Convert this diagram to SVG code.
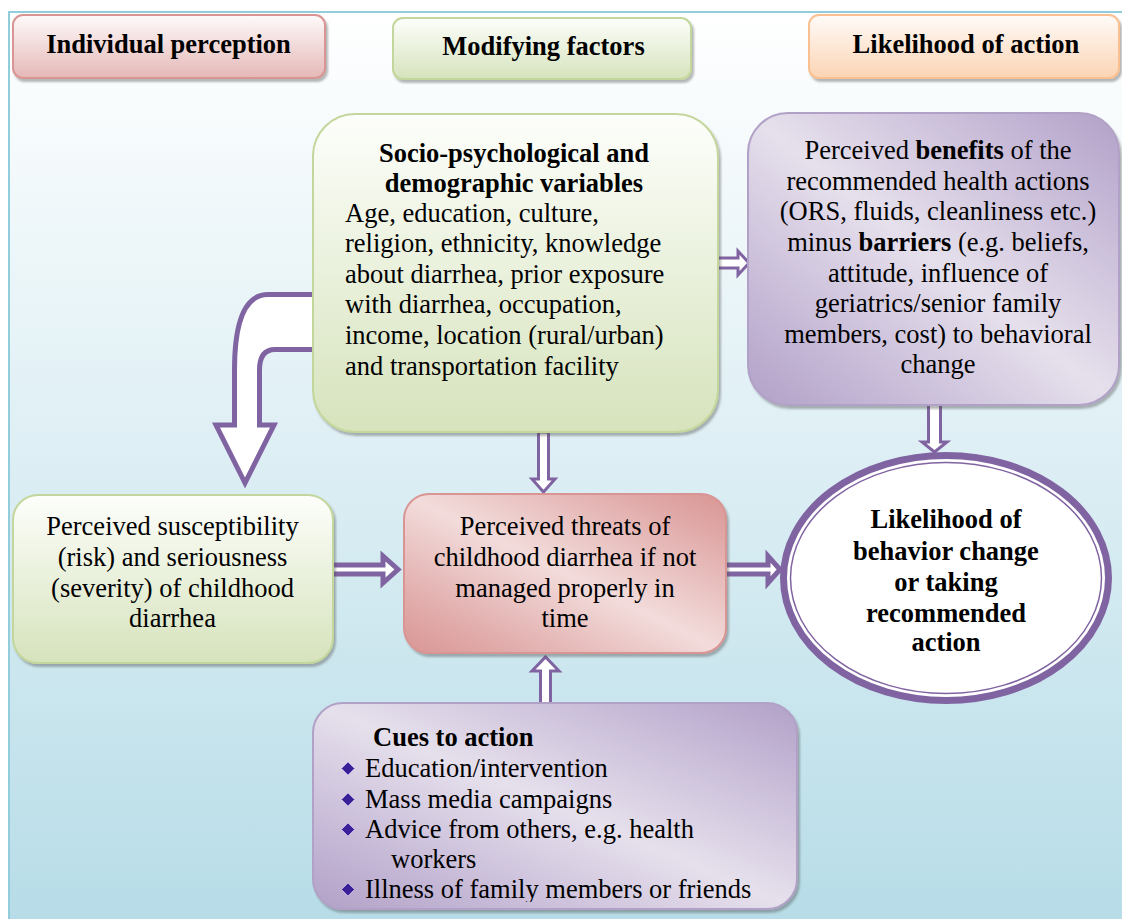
<svg xmlns="http://www.w3.org/2000/svg" width="1122" height="919" viewBox="0 0 1122 919">
<defs>
<linearGradient id="bg" x1="0" y1="0" x2="0" y2="1">
<stop offset="0" stop-color="#ffffff"/>
<stop offset="0.5" stop-color="#dceef4"/>
<stop offset="1" stop-color="#b6dce7"/>
</linearGradient>
<linearGradient id="gPinkV" x1="0" y1="0" x2="0" y2="1">
<stop offset="0" stop-color="#fefafa"/>
<stop offset="1" stop-color="#e5b8b7"/>
</linearGradient>
<linearGradient id="gGreenV" x1="0" y1="0" x2="0" y2="1">
<stop offset="0" stop-color="#fdfefb"/>
<stop offset="1" stop-color="#d6e3bc"/>
</linearGradient>
<linearGradient id="gOrangeV" x1="0" y1="0" x2="0" y2="1">
<stop offset="0" stop-color="#fffbf8"/>
<stop offset="1" stop-color="#fbd4b4"/>
</linearGradient>
<linearGradient id="gPinkD" x1="1" y1="0" x2="0" y2="1">
<stop offset="0" stop-color="#d99694"/>
<stop offset="0.15" stop-color="#e0a9a8"/>
<stop offset="0.5" stop-color="#f2dcdb"/>
<stop offset="0.8" stop-color="#e2afae"/>
<stop offset="1" stop-color="#d99694"/>
</linearGradient>
<linearGradient id="gPurpleD" x1="1" y1="0" x2="0" y2="1">
<stop offset="0" stop-color="#b2a1c7"/>
<stop offset="0.15" stop-color="#c2b4d4"/>
<stop offset="0.5" stop-color="#e6e0ec"/>
<stop offset="0.8" stop-color="#c6b9d7"/>
<stop offset="1" stop-color="#b2a1c7"/>
</linearGradient>
<filter id="sh" x="-5%" y="-5%" width="115%" height="120%">
<feDropShadow dx="2" dy="3" stdDeviation="1" flood-color="#4a4a4a" flood-opacity="0.4"/>
</filter>
<clipPath id="cuesClip"><rect x="313" y="703" width="484" height="199"/></clipPath>
</defs>
<style>
.t{font-family:"Liberation Serif","Times New Roman",serif;font-size:26.5px;fill:#000}
.b{font-weight:bold}
.c{text-anchor:middle}
.arr{fill:#ffffff;stroke:#8064a2;stroke-linejoin:miter}
.a3{stroke-width:3}
.a5{stroke-width:5}
.box{stroke-width:2}
.bul{fill:#3b1f99;stroke:#b9addb;stroke-width:1}
</style>
<rect x="0" y="0" width="1122" height="919" fill="#ffffff"/>
<rect x="9" y="12" width="1120" height="920" fill="url(#bg)" stroke="#92cddc" stroke-width="2"/>

<g id="connectors">
<path class="arr a5" d="M315,294.5 L268,294.5 C246,294.5 234.5,320 234.5,370 L234.5,425 L216,425 L245,483 L274,425 L259.5,425 L259.5,370 C259.5,356 265,349.5 275,349.5 L315,349.5 Z"/>
<path class="arr a3" d="M716,258 L738,258 L738,251 L749,263 L738,275 L738,268 L716,268 Z"/>
<path class="arr a3" d="M928.5,403 L928.5,442 L922,442 L934.5,452 L947,442 L940.5,442 L940.5,403 Z"/>
<path class="arr a3" d="M538.5,432 L538.5,479 L532,479 L543.5,492 L555,479 L548.5,479 L548.5,432 Z"/>
<path class="arr a3" d="M540.5,706 L540.5,671 L532,671 L545.5,657 L559,671 L550.5,671 L550.5,706 Z"/>
<path class="arr a5" d="M330,565 L383,565 L383,556 L398,569.5 L383,583 L383,574 L330,574 Z"/>
<path class="arr a5" d="M724,565 L768,565 L768,556 L780,569.5 L768,583 L768,574 L724,574 Z"/>
</g>

<g id="hdr-individual">
<rect class="box" x="13" y="15" width="312" height="63" rx="10" fill="url(#gPinkV)" stroke="#d99594" filter="url(#sh)"/>
<text class="t b c" x="168.5" y="53">Individual perception</text>
</g>
<g id="hdr-modifying">
<rect class="box" x="393" y="18" width="298" height="61" rx="10" fill="url(#gGreenV)" stroke="#c3d69b" filter="url(#sh)"/>
<text class="t b c" x="543.5" y="55">Modifying factors</text>
</g>
<g id="hdr-likelihood">
<rect class="box" x="809" y="15" width="310" height="63" rx="10" fill="url(#gOrangeV)" stroke="#fac090" filter="url(#sh)"/>
<text class="t b c" x="966" y="53">Likelihood of action</text>
</g>

<g id="socio">
<rect class="box" x="313" y="114" width="405" height="318" rx="42" fill="url(#gGreenV)" stroke="#c3d69b" filter="url(#sh)"/>
<text class="t b c" x="514" y="162">Socio-psychological and</text>
<text class="t b c" x="514" y="192">demographic variables</text>
<text class="t" x="345" y="222">Age, education, culture,</text>
<text class="t" x="345" y="252">religion, ethnicity, knowledge</text>
<text class="t" x="345" y="283">about diarrhea, prior exposure</text>
<text class="t" x="345" y="313">with diarrhea, occupation,</text>
<text class="t" x="345" y="344">income, location (rural/urban)</text>
<text class="t" x="345" y="375">and transportation facility</text>
</g>

<g id="benefits">
<rect class="box" x="748" y="113" width="371" height="292" rx="40" fill="url(#gPurpleD)" stroke="#b2a1c7" filter="url(#sh)"/>
<text class="t c" x="938" y="159">Perceived <tspan class="b">benefits</tspan> of the</text>
<text class="t c" x="938" y="190">recommended health actions</text>
<text class="t c" x="938" y="220">(ORS, fluids, cleanliness etc.)</text>
<text class="t c" x="938" y="251">minus <tspan class="b">barriers</tspan> (e.g. beliefs,</text>
<text class="t c" x="938" y="282">attitude, influence of</text>
<text class="t c" x="938" y="312">geriatrics/senior family</text>
<text class="t c" x="938" y="343">members, cost) to behavioral</text>
<text class="t c" x="938" y="373">change</text>
</g>

<g id="susceptibility">
<rect class="box" x="13" y="495" width="320" height="168" rx="25" fill="url(#gGreenV)" stroke="#c3d69b" filter="url(#sh)"/>
<text class="t c" x="172.5" y="535">Perceived susceptibility</text>
<text class="t c" x="172.5" y="566">(risk) and seriousness</text>
<text class="t c" x="172.5" y="597">(severity) of childhood</text>
<text class="t c" x="172.5" y="627">diarrhea</text>
</g>

<g id="threats">
<rect class="box" x="404" y="494" width="322" height="159" rx="25" fill="url(#gPinkD)" stroke="#d99594" filter="url(#sh)"/>
<text class="t c" x="565" y="535">Perceived threats of</text>
<text class="t c" x="565" y="566">childhood diarrhea if not</text>
<text class="t c" x="565" y="597">managed properly in</text>
<text class="t c" x="565" y="627">time</text>
</g>

<g id="likelihood">
<ellipse cx="946" cy="578" rx="162.5" ry="122.5" fill="#ffffff" stroke="#8064a2" stroke-width="7"/>
<ellipse cx="946" cy="578" rx="155.5" ry="115.5" fill="none" stroke="#8064a2" stroke-width="1.5"/>
<text class="t b c" x="946" y="528">Likelihood of</text>
<text class="t b c" x="946" y="560">behavior change</text>
<text class="t b c" x="946" y="591">or taking</text>
<text class="t b c" x="946" y="622">recommended</text>
<text class="t b c" x="946" y="651">action</text>
</g>

<g id="cues">
<rect class="box" x="313" y="703" width="484" height="206" rx="30" fill="url(#gPurpleD)" stroke="#b2a1c7" filter="url(#sh)"/>
<text class="t b" x="373" y="746">Cues to action</text>
<polygon class="bul" points="348,762 354.5,768.5 348,775 341.5,768.5"/>
<text class="t" x="365" y="777">Education/intervention</text>
<polygon class="bul" points="348,793 354.5,799.5 348,806 341.5,799.5"/>
<text class="t" x="365" y="808">Mass media campaigns</text>
<polygon class="bul" points="348,823 354.5,829.5 348,836 341.5,829.5"/>
<text class="t" x="365" y="838">Advice from others, e.g. health</text>
<text class="t" x="391" y="868">workers</text>
<polygon class="bul" points="348,883 354.5,889.5 348,896 341.5,889.5"/>
<text class="t" x="365" y="898" clip-path="url(#cuesClip)">Illness of family members or friends</text>
</g>
</svg>
